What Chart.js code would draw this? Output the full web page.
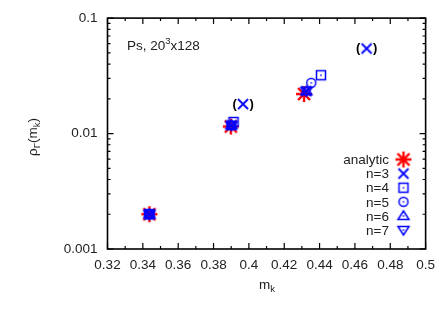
<!DOCTYPE html>
<html lang="en">
<head>
<meta charset="UTF-8"/>
<title>Ps, 20^3x128</title>
<script src="https://cdn.jsdelivr.net/npm/chart.js"></script>
<style>
  html, body { margin: 0; padding: 0; background: #fff; }
  canvas { display: block; }
</style>
</head>
<body>
<canvas id="plot" width="443" height="311"></canvas>
<script>
  // values
  const xTicks = [0.32, 0.34, 0.36, 0.38, 0.4, 0.42, 0.44, 0.46, 0.48, 0.5];
  const yTicks = [0.001, 0.01, 0.1];

  const analyticX = [0.3437, 0.3898, 0.4312];
  const analyticY = [0.0020, 0.0115, 0.0220];
  const n3X = [0.3437, 0.3901, 0.4325, 0.3967, 0.4666];
  const n3Y = [0.0020, 0.0118, 0.0233, 0.0180, 0.0545];
  const n3Bracketed = [false, false, false, true, true];
  const n4X = [0.3437, 0.3913, 0.4408];
  const n4Y = [0.0020, 0.0126, 0.0320];
  const n5X = [0.3437, 0.3901, 0.4353];
  const n5Y = [0.0020, 0.0118, 0.0275];
  const n6X = [0.3437, 0.3901, 0.4325];
  const n6Y = [0.0020, 0.0118, 0.0233];
  const n7X = [0.3437, 0.3901, 0.4325];
  const n7Y = [0.0020, 0.0118, 0.0233];

  const FONT = '"Liberation Sans", Arial, sans-serif';
  const RED = '#ff0000', BLUE = '#0000ff';

  const pts = (xs, ys) => xs.map((x, i) => ({ x, y: ys[i] }));

  // gnuplot-like point symbols, drawn once on small canvases
  function marker(kind, color) {
    const s = 20, c = s / 2;
    const cv = document.createElement('canvas');
    cv.width = s; cv.height = s;
    const g = cv.getContext('2d');
    g.strokeStyle = color; g.fillStyle = color; g.lineWidth = 1.5;
    g.beginPath();
    if (kind === 'star') {
      g.lineWidth = 2.4;
      const r = 8, d = 6;
      g.moveTo(c - r, c); g.lineTo(c + r, c);
      g.moveTo(c, c - r); g.lineTo(c, c + r);
      g.moveTo(c - d, c - d); g.lineTo(c + d, c + d);
      g.moveTo(c - d, c + d); g.lineTo(c + d, c - d);
      g.stroke();
      return cv;
    }
    if (kind === 'x') {
      g.lineWidth = 1.8;
      const d = 5;
      g.moveTo(c - d, c - d); g.lineTo(c + d, c + d);
      g.moveTo(c - d, c + d); g.lineTo(c + d, c - d);
      g.stroke();
      return cv;
    }
    if (kind === 'square') g.rect(c - 4.5, c - 4.5, 9, 9);
    if (kind === 'circle') g.arc(c, c, 4.5, 0, Math.PI * 2);
    if (kind === 'tri') { g.moveTo(c, c - 5); g.lineTo(c + 5.5, c + 3.5); g.lineTo(c - 5.5, c + 3.5); g.closePath(); }
    if (kind === 'itri') { g.moveTo(c, c + 5); g.lineTo(c + 5.5, c - 3.5); g.lineTo(c - 5.5, c - 3.5); g.closePath(); }
    g.stroke();
    g.fillRect(c - 0.75, c - 0.75, 1.5, 1.5);
    return cv;
  }

  // order: higher numbers are drawn first, so the analytic stars sit underneath
  function ds(label, data, style, order) {
    return { label, data, pointStyle: style, order, showLine: false, pointRadius: 8, pointHoverRadius: 8 };
  }

  // inward ticks on all four sides plus the frame
  const frame = {
    id: 'frame',
    afterDatasetsDraw(chart) {
      const { ctx, chartArea: a, scales: { x, y } } = chart;
      ctx.save();
      ctx.strokeStyle = '#000';
      ctx.lineWidth = 1.2;
      ctx.beginPath();
      const vt = (px, len) => {
        ctx.moveTo(px, a.bottom); ctx.lineTo(px, a.bottom - len);
        ctx.moveTo(px, a.top); ctx.lineTo(px, a.top + len);
      };
      const ht = (py, len) => {
        ctx.moveTo(a.left, py); ctx.lineTo(a.left + len, py);
        ctx.moveTo(a.right, py); ctx.lineTo(a.right - len, py);
      };
      xTicks.forEach((v, i) => {
        vt(x.getPixelForValue(v), 6);
        if (i < xTicks.length - 1) vt(x.getPixelForValue((v + xTicks[i + 1]) / 2), 3);
      });
      yTicks.forEach((d, i) => {
        ht(y.getPixelForValue(d), 6);
        if (i < yTicks.length - 1) for (let k = 2; k < 10; k++) ht(y.getPixelForValue(k * d), 3);
      });
      ctx.stroke();
      ctx.lineWidth = 1.6;
      ctx.strokeRect(a.left, a.top, a.right - a.left, a.bottom - a.top);
      ctx.restore();
    }
  };

  // brackets round the excluded n=3 points
  const brackets = {
    id: 'brackets',
    afterDatasetsDraw(chart) {
      const meta = chart.getDatasetMeta(1);
      const ctx = chart.ctx;
      ctx.save();
      ctx.fillStyle = '#000';
      ctx.font = 'bold 13px ' + FONT;
      ctx.textAlign = 'center';
      ctx.textBaseline = 'middle';
      meta.data.forEach((p, i) => {
        if (!n3Bracketed[i]) return;
        ctx.fillText('(', p.x - 8.5, p.y);
        ctx.fillText(')', p.x + 8.5, p.y);
      });
      ctx.restore();
    }
  };

  // key inside the plot: text on the left, symbol on the right
  const key = {
    id: 'key',
    afterDraw(chart) {
      const ctx = chart.ctx;
      ctx.save();
      ctx.font = '13.5px ' + FONT;
      ctx.fillStyle = '#222';
      ctx.textAlign = 'right';
      ctx.textBaseline = 'middle';
      chart.data.datasets.forEach((d, i) => {
        const yy = 159.5 + i * 14.1;
        ctx.fillText(d.label, 389, yy + 1);
        const img = d.pointStyle;
        ctx.drawImage(img, 403.5 - img.width / 2, yy - img.height / 2);
      });
      ctx.restore();
    }
  };

  // text with subscripts / superscripts: [text, shift] pieces
  function drawPieces(ctx, pieces, x, y, align) {
    const big = '13.5px ' + FONT, small = '9.5px ' + FONT;
    let w = 0;
    pieces.forEach(([t, sh]) => { ctx.font = sh ? small : big; w += ctx.measureText(t).width; });
    let cx = align === 'center' ? x - w / 2 : x;
    ctx.textAlign = 'left';
    ctx.textBaseline = 'alphabetic';
    pieces.forEach(([t, sh]) => {
      ctx.font = sh ? small : big;
      ctx.fillText(t, cx, y + sh);
      cx += ctx.measureText(t).width;
    });
  }

  const labels = {
    id: 'labels',
    afterDraw(chart) {
      const ctx = chart.ctx;
      ctx.save();
      ctx.fillStyle = '#222';
      drawPieces(ctx, [['Ps, 20', 0], ['3', -6], ['x128', 0]], 127, 49.5, 'left');
      drawPieces(ctx, [['m', 0], ['k', 3]], 267, 289, 'center');
      ctx.translate(37, 137);
      ctx.rotate(-Math.PI / 2);
      drawPieces(ctx, [['\u03c1', 0], ['\u0393', 3], ['(m', 0], ['k', 3], [')', 0]], 0, 0, 'center');
      ctx.restore();
    }
  };

  new Chart(document.getElementById('plot'), {
    type: 'scatter',
    data: {
      datasets: [
        ds('analytic', pts(analyticX, analyticY), marker('star', RED), 6),
        ds('n=3', pts(n3X, n3Y), marker('x', BLUE), 1),
        ds('n=4', pts(n4X, n4Y), marker('square', BLUE), 2),
        ds('n=5', pts(n5X, n5Y), marker('circle', BLUE), 3),
        ds('n=6', pts(n6X, n6Y), marker('tri', BLUE), 4),
        ds('n=7', pts(n7X, n7Y), marker('itri', BLUE), 5)
      ]
    },
    options: {
      responsive: false,
      animation: false,
      devicePixelRatio: 1,
      events: [],
      layout: { padding: { top: 18, right: 17, left: 0, bottom: 0 } },
      plugins: { legend: { display: false }, tooltip: { enabled: false } },
      scales: {
        x: {
          type: 'linear', min: 0.32, max: 0.5,
          grid: { display: false, drawTicks: false },
          border: { display: false },
          afterBuildTicks: s => { s.ticks = xTicks.map(v => ({ value: v })); },
          afterFit: s => { s.height = 62; },
          ticks: {
            padding: 8, color: '#222', autoSkip: false, maxRotation: 0,
            font: { family: FONT, size: 13.5 },
            callback: v => String(v)
          }
        },
        y: {
          type: 'logarithmic', min: 0.001, max: 0.1,
          grid: { display: false, drawTicks: false },
          border: { display: false },
          afterBuildTicks: s => { s.ticks = yTicks.map(v => ({ value: v })); },
          afterFit: s => { s.width = 107.5; },
          ticks: {
            padding: 10, color: '#222', autoSkip: false,
            font: { family: FONT, size: 13.5 },
            callback: v => String(v)
          }
        }
      }
    },
    plugins: [frame, brackets, key, labels]
  });
</script>
</body>
</html>
